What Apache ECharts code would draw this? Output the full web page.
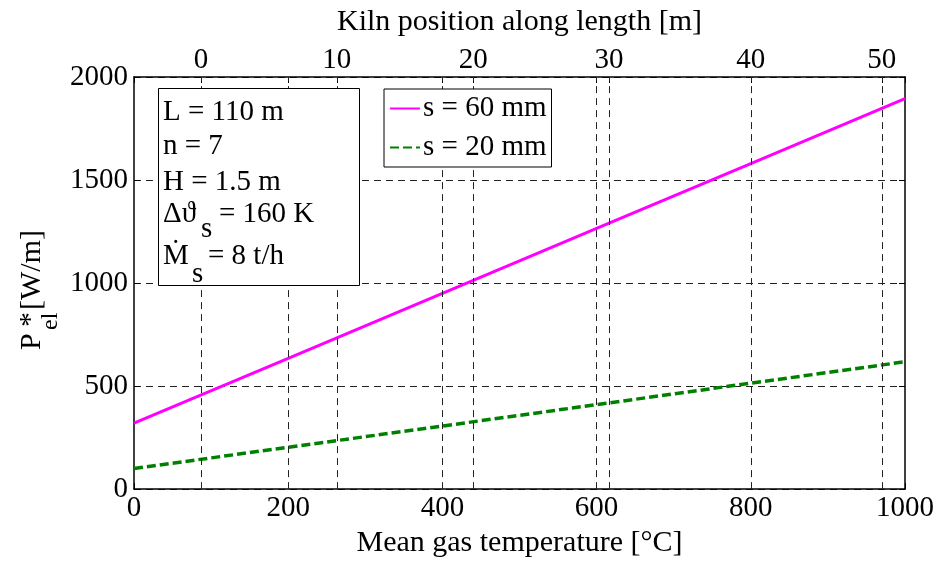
<!DOCTYPE html>
<html>
<head>
<meta charset="utf-8">
<script src="https://cdn.jsdelivr.net/npm/echarts@6/dist/echarts.min.js"></script>
<style>
html,body{margin:0;padding:0;background:#fff;}
#c{width:938px;height:563px;}
</style>
</head>
<body>
<div id="c"></div>
<script>
// ---- data ----
const temps = [0, 200, 400, 600, 800, 1000];
const s60 = [320, 635, 950, 1265, 1580, 1895];
const s20 = [100, 203, 306, 410, 514, 618];
const bottomTicks = [0, 200, 400, 600, 800, 1000];
const topTickTemps = [87, 263, 440, 616, 800, 970];
const topTickLabels = ['0', '10', '20', '30', '40', '50'];
const yTicks = [0, 500, 1000, 1500, 2000];
const infoLines = ['L = 110 m', 'n = 7', 'H = 1.5 m'];

const FONT = 'Liberation Serif, Times New Roman, DejaVu Serif, serif';
const allTicks = Array.from(new Set(bottomTicks.concat(topTickTemps))).sort((a, b) => a - b);
const gridTemps = allTicks.filter(v => v > 0 && v < 1000);

const pairs = (xs, ys) => xs.map((x, i) => [x, ys[i]]);
const plain = v => String(v);

const chart = echarts.init(document.getElementById('c'), null, {renderer: 'canvas'});
const axisLineStyle = {color: '#000', width: 1.5};
const labelStyle = {color: '#000', fontFamily: FONT, fontSize: 29};

const option = {
  animation: false,
  backgroundColor: '#fff',
  grid: {left: 134, right: 33, top: 77, bottom: 67, containLabel: false},
  xAxis: [
    {
      type: 'value', position: 'bottom', min: 0, max: 1000, interval: 200,
      name: 'Mean gas temperature [°C]', nameLocation: 'middle', nameGap: 35,
      nameTextStyle: {color: '#000', fontFamily: FONT, fontSize: 30},
      axisLine: {show: true, onZero: false, lineStyle: axisLineStyle},
      axisTick: {show: true, inside: true, length: 6, customValues: allTicks, lineStyle: {color: '#000', width: 1}},
      axisLabel: Object.assign({margin: 5, customValues: bottomTicks, formatter: plain}, labelStyle),
      splitLine: {show: false}
    },
    {
      type: 'value', position: 'top', min: 0, max: 1000,
      name: 'Kiln position along length [m]', nameLocation: 'middle', nameGap: 40,
      nameTextStyle: {color: '#000', fontFamily: FONT, fontSize: 30},
      axisLine: {show: true, onZero: false, lineStyle: axisLineStyle},
      axisTick: {show: true, inside: true, length: 6, customValues: allTicks, lineStyle: {color: '#000', width: 1}},
      axisLabel: Object.assign({
        margin: 2, customValues: topTickTemps,
        formatter: function (v) {
          const i = topTickTemps.indexOf(v);
          return i >= 0 ? topTickLabels[i] : '';
        }
      }, labelStyle),
      splitLine: {show: false}
    }
  ],
  yAxis: [
    {
      type: 'value', position: 'left', min: 0, max: 2000, interval: 500,
      axisLine: {show: true, onZero: false, lineStyle: axisLineStyle},
      axisTick: {show: true, inside: true, length: 6, lineStyle: {color: '#000', width: 1}},
      axisLabel: Object.assign({margin: 6, formatter: plain}, labelStyle),
      splitLine: {show: true, lineStyle: {type: [7, 5], color: '#222', width: 1}}
    },
    {
      type: 'value', position: 'right', min: 0, max: 2000, interval: 500,
      axisLine: {show: true, onZero: false, lineStyle: axisLineStyle},
      axisTick: {show: true, inside: true, length: 6, lineStyle: {color: '#000', width: 1}},
      axisLabel: {show: false},
      splitLine: {show: false}
    }
  ],
  legend: {
    show: true,
    orient: 'vertical',
    left: 384, top: 89,
    data: ['s = 60 mm', 's = 20 mm'],
    backgroundColor: '#fff',
    borderColor: '#000', borderWidth: 1, borderRadius: 0,
    padding: [3, 5, 3, 5],
    itemWidth: 30, itemHeight: 14, itemGap: 6,
    itemStyle: {opacity: 0},
    textStyle: {color: '#000', fontFamily: FONT, fontSize: 29, lineHeight: 33, padding: [0, 0, 0, -2]},
    z: 50
  },
  series: [
    {
      name: 'grid', type: 'line', data: [], z: 1, silent: true,
      xAxisIndex: 0, yAxisIndex: 0,
      markLine: {
        silent: true, symbol: ['none', 'none'], animation: false,
        label: {show: false},
        lineStyle: {type: [7, 5], color: '#222', width: 1},
        data: gridTemps.map(v => ({xAxis: v}))
      }
    },
    {
      name: 's = 60 mm', type: 'line', data: pairs(temps, s60), z: 3,
      xAxisIndex: 0, yAxisIndex: 0,
      symbol: 'none', showSymbol: false,
      lineStyle: {color: '#ff00ff', width: 3},
      itemStyle: {color: '#ff00ff'}
    },
    {
      name: 's = 20 mm', type: 'line', data: pairs(temps, s20), z: 3,
      xAxisIndex: 0, yAxisIndex: 0,
      symbol: 'none', showSymbol: false,
      lineStyle: {color: '#008000', width: 3.5, type: [9, 4]},
      itemStyle: {color: '#008000'}
    }
  ],
  graphic: [
    {
      type: 'rect', z: 100, silent: true,
      shape: {x: 158.5, y: 88.5, width: 201, height: 197},
      style: {fill: '#fff', stroke: '#000', lineWidth: 1}
    },
    {type: 'text', z: 101, style: {x: 163, y: 112, text: infoLines[0], font: '29px ' + FONT, fill: '#000', textVerticalAlign: 'middle'}},
    {type: 'text', z: 101, style: {x: 163, y: 146, text: infoLines[1], font: '29px ' + FONT, fill: '#000', textVerticalAlign: 'middle'}},
    {type: 'text', z: 101, style: {x: 163, y: 182, text: infoLines[2], font: '29px ' + FONT, fill: '#000', textVerticalAlign: 'middle'}},
    {type: 'text', z: 101, style: {x: 163, y: 214, text: 'Δϑ', font: '29px ' + FONT, fill: '#000', textVerticalAlign: 'middle'}},
    {type: 'text', z: 101, style: {x: 201, y: 229, text: 's', font: '29px ' + FONT, fill: '#000', textVerticalAlign: 'middle'}},
    {type: 'text', z: 101, style: {x: 219, y: 214, text: '= 160 K', font: '29px ' + FONT, fill: '#000', textVerticalAlign: 'middle'}},
    {type: 'text', z: 101, style: {x: 163, y: 256, text: 'Ṁ', font: '29px ' + FONT, fill: '#000', textVerticalAlign: 'middle'}},
    {type: 'text', z: 101, style: {x: 192, y: 274, text: 's', font: '29px ' + FONT, fill: '#000', textVerticalAlign: 'middle'}},
    {type: 'text', z: 101, style: {x: 208, y: 256, text: '= 8 t/h', font: '29px ' + FONT, fill: '#000', textVerticalAlign: 'middle'}},
    {
      type: 'group', x: 32, y: 288, rotation: Math.PI / 2, z: 101,
      children: [
        {type: 'text', style: {x: -62, y: 0, text: 'P', font: '30px ' + FONT, fill: '#000', textVerticalAlign: 'middle'}},
        {type: 'text', style: {x: -39, y: -1, text: '*', font: '30px ' + FONT, fill: '#000', textVerticalAlign: 'middle'}},
        {type: 'text', style: {x: -42, y: 19, text: 'el', font: '24px ' + FONT, fill: '#000', textVerticalAlign: 'middle'}},
        {type: 'text', style: {x: -22, y: 0, text: '[W/m]', font: '30px ' + FONT, fill: '#000', textVerticalAlign: 'middle'}}
      ]
    }
  ]
};
chart.setOption(option);
</script>
</body>
</html>
